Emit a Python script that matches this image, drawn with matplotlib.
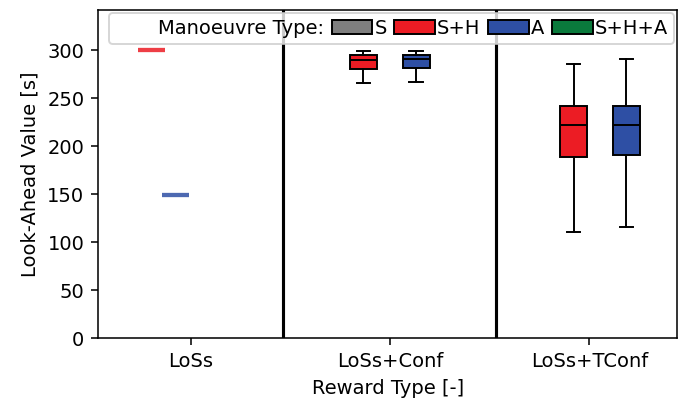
import numpy as np
import matplotlib.pyplot as plt
from matplotlib.patches import Patch

rewards = ['LoSs', 'LoSs+Conf', 'LoSs+TConf']
manoeuvres = ['S', 'S+H', 'A', 'S+H+A']
colors = {'S': '#7f7f7f', 'S+H': '#ec1c24', 'A': '#2e4fa4', 'S+H+A': '#0a7a3c'}

# box stats: (reward, manoeuvre) -> whislo, q1, med, q3, whishi
stats_sh = {'LoSs': [300, 300, 300, 300, 300],
            'LoSs+Conf': [266, 281, 289.5, 295, 299],
            'LoSs+TConf': [111, 189, 222.5, 242, 285.5]}
stats_a = {'LoSs': [149.5, 149.5, 149.5, 149.5, 149.5],
           'LoSs+Conf': [266.5, 282, 291, 295, 299],
           'LoSs+TConf': [116, 190.5, 222.5, 242, 290.5]}

# offsets of the boxes from each category tick
offs_sh = [-0.20, -0.135, -0.08]
offs_a = [-0.08, 0.13, 0.186]

fig = plt.figure(figsize=(4.9, 2.8786), dpi=140)
ax = fig.add_axes([0.143, 0.161, 0.844, 0.814])

def to_bxp(v):
    return dict(whislo=v[0], q1=v[1], med=v[2], q3=v[3], whishi=v[4], fliers=[])

for i, r in enumerate(rewards):
    for st, off, m in [(stats_sh, offs_sh, 'S+H'), (stats_a, offs_a, 'A')]:
        v = st[r]
        flat = v[0] == v[4]
        med_col = colors[m] if flat else 'black'
        ax.bxp([to_bxp(v)], positions=[i + off[i]], widths=0.135,
               patch_artist=True, showfliers=False,
               showcaps=not flat, showbox=not flat,
               boxprops=dict(facecolor=colors[m], edgecolor='black', lw=1.0),
               medianprops=dict(color=med_col, lw=2.2 if flat else 1.0,
                                alpha=0.85 if flat else 1),
               whiskerprops=dict(color='black'), capprops=dict(color='black'))

# separators between reward types
for xs in [0.46, 1.53]:
    ax.axvline(xs, color='black', lw=1.6)

ax.set_xlim(-0.467, 2.44)
ax.set_ylim(0, 342)
ax.set_xticks(range(len(rewards)))
ax.set_xticklabels(rewards)
ax.set_yticks(range(0, 301, 50))
ax.set_xlabel('Reward Type [-]')
ax.set_ylabel('Look-Ahead Value [s]')

handles = [Patch(facecolor='none', edgecolor='none')]
labels = ['Manoeuvre Type:']
for m in manoeuvres:
    handles.append(Patch(facecolor=colors[m], edgecolor='black'))
    labels.append(m)
ax.legend(handles, labels, ncol=5, loc='upper right', handlelength=2.1,
          handletextpad=0.1, columnspacing=0.4, borderaxespad=0.15,
          borderpad=0.3, bbox_to_anchor=(1.0, 1.0))

fig.savefig('out.png', dpi=140)
